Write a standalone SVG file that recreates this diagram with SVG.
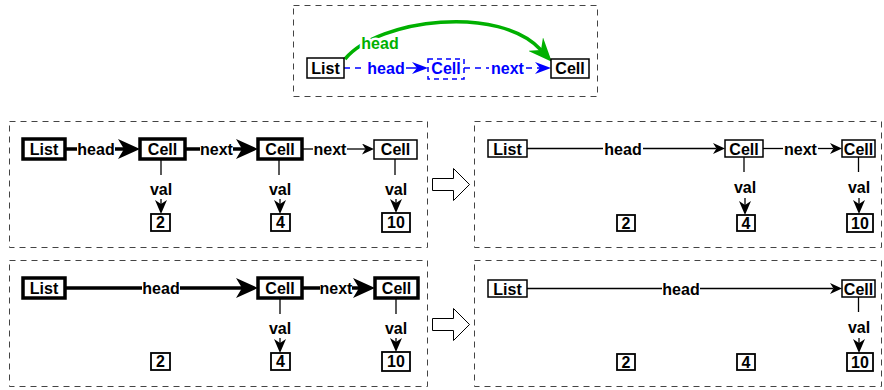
<svg xmlns="http://www.w3.org/2000/svg" width="884" height="390" viewBox="0 0 884 390">
<defs>
<style>
text{font-family:"Liberation Sans",Arial,sans-serif;font-weight:bold;font-size:16px;text-anchor:middle;fill:#000}
.panel{fill:none;stroke:#444;stroke-width:1;stroke-dasharray:6,5}
.thick{fill:#fff;stroke:#000;stroke-width:3.5}
.thin{fill:#fff;stroke:#000;stroke-width:1.5}
.val{fill:#fff;stroke:#000;stroke-width:1.8}
.lt{stroke:#000;stroke-width:3.5;fill:none}
.ln{stroke:#000;stroke-width:1.3;fill:none}
.blue{stroke:#0000ff;stroke-width:1.5;stroke-dasharray:6,5;fill:none}
.bt{fill:#0000ff}
.gt{fill:#00b000}
.hollow{fill:#fff;stroke:#000;stroke-width:1}
</style>
<marker id="ahT" markerUnits="userSpaceOnUse" viewBox="0 0 22 20" markerWidth="22" markerHeight="20" refX="6" refY="10" orient="auto"><path d="M0,0 L22,10 L0,20 L6,10 Z" fill="#000"/></marker>
<marker id="ahN" markerUnits="userSpaceOnUse" viewBox="0 0 12 11" markerWidth="12" markerHeight="11" refX="3.5" refY="5.5" orient="auto"><path d="M0,0 L12,5.5 L0,11 L3.5,5.5 Z" fill="#000"/></marker>
<marker id="ahV" markerUnits="userSpaceOnUse" viewBox="0 0 14 12" markerWidth="14" markerHeight="12" refX="4" refY="6" orient="auto"><path d="M0,0 L14,6 L0,12 L4,6 Z" fill="#000"/></marker>
<marker id="ahB" markerUnits="userSpaceOnUse" viewBox="0 0 16 12" markerWidth="16" markerHeight="12" refX="5" refY="6" orient="auto"><path d="M0,0 L16,6 L0,12 L5,6 Z" fill="#0000ff"/></marker>
<marker id="ahG" markerUnits="userSpaceOnUse" viewBox="0 0 24 20" markerWidth="24" markerHeight="20" refX="8" refY="10" orient="auto"><path d="M0,0 L24,10 L0,20 L8,10 Z" fill="#00b000"/></marker>
</defs>
<rect width="884" height="390" fill="#fff"/>

<!-- panels -->
<g id="panels">
<rect class="panel" x="293.5" y="5.5" width="304" height="91"/>
<rect class="panel" x="9.5" y="121.5" width="418" height="126"/>
<rect class="panel" x="474.5" y="121.5" width="407" height="126"/>
<rect class="panel" x="9.5" y="260.5" width="418" height="126"/>
<rect class="panel" x="474.5" y="260.5" width="407" height="126"/>
</g>

<!-- transition arrows -->
<g id="transitions">
<polygon class="hollow" points="432.5,178.5 453.5,178.5 453.5,168.5 469.5,184.5 453.5,200.5 453.5,190.5 432.5,190.5"/>
<polygon class="hollow" points="432.5,318.5 453.5,318.5 453.5,308.5 469.5,324.5 453.5,340.5 453.5,330.5 432.5,330.5"/>
</g>

<!-- connectors -->
<g id="connectors">
<!-- top legend -->
<path d="M345,59 C380,18 500,5 541,50" stroke="#00b000" stroke-width="3.5" fill="none" marker-end="url(#ahG)"/>
<text class="gt" x="380" y="49" stroke="#fff" stroke-width="5" paint-order="stroke">head</text>
<line class="blue" x1="344" y1="68" x2="366" y2="68"/>
<text class="bt" x="386" y="74">head</text>
<line x1="406" y1="68" x2="417" y2="68" stroke="#0000ff" stroke-width="1.5" marker-end="url(#ahB)"/>
<line class="blue" x1="464" y1="68" x2="489" y2="68"/>
<text class="bt" x="507.5" y="74">next</text>
<line x1="526" y1="68" x2="540" y2="68" stroke="#0000ff" stroke-width="1.5" stroke-dasharray="6,5" marker-end="url(#ahB)"/>

<!-- panel 1 -->
<line class="lt" x1="65" y1="149" x2="77" y2="149"/>
<text x="96" y="155">head</text>
<line class="lt" x1="115" y1="149" x2="124" y2="149" marker-end="url(#ahT)"/>
<line class="lt" x1="185" y1="149" x2="200" y2="149"/>
<text x="216.5" y="155">next</text>
<line class="lt" x1="233" y1="149" x2="242" y2="149" marker-end="url(#ahT)"/>
<line class="ln" x1="302" y1="149" x2="313" y2="149"/>
<text x="330" y="155">next</text>
<line class="ln" x1="347" y1="149" x2="365.5" y2="149" marker-end="url(#ahN)"/>
<line class="ln" x1="161" y1="159" x2="161" y2="175"/>
<text x="161" y="195">val</text>
<line class="ln" x1="161" y1="199" x2="161" y2="204" marker-end="url(#ahV)"/>
<line class="ln" x1="279" y1="159" x2="279" y2="175"/>
<text x="280" y="195">val</text>
<line class="ln" x1="280" y1="199" x2="280" y2="204" marker-end="url(#ahV)"/>
<line class="ln" x1="395" y1="159" x2="395" y2="175"/>
<text x="396" y="195">val</text>
<line class="ln" x1="396" y1="199" x2="396" y2="203" marker-end="url(#ahV)"/>

<!-- panel 2 -->
<line class="ln" x1="527" y1="148.5" x2="603" y2="148.5"/>
<text x="623" y="154.5">head</text>
<line class="ln" x1="643" y1="148.5" x2="716.5" y2="148.5" marker-end="url(#ahN)"/>
<line class="ln" x1="763" y1="148.5" x2="783" y2="148.5"/>
<text x="800.5" y="154.5">next</text>
<line class="ln" x1="818" y1="148.5" x2="833.5" y2="148.5" marker-end="url(#ahN)"/>
<line class="ln" x1="744" y1="157" x2="744" y2="172"/>
<text x="745" y="193">val</text>
<line class="ln" x1="745" y1="198" x2="745" y2="205" marker-end="url(#ahV)"/>
<line class="ln" x1="858.5" y1="157" x2="858.5" y2="172"/>
<text x="859" y="193">val</text>
<line class="ln" x1="859" y1="198" x2="859" y2="204" marker-end="url(#ahV)"/>

<!-- panel 3 -->
<line class="lt" x1="65" y1="288" x2="142" y2="288"/>
<text x="161" y="294">head</text>
<line class="lt" x1="180" y1="288" x2="242" y2="288" marker-end="url(#ahT)"/>
<line class="lt" x1="302" y1="288" x2="320" y2="288"/>
<text x="336" y="294">next</text>
<line class="lt" x1="352" y1="288" x2="359" y2="288" marker-end="url(#ahT)"/>
<line class="ln" x1="280" y1="298" x2="280" y2="314"/>
<text x="280" y="334">val</text>
<line class="ln" x1="280" y1="338" x2="280" y2="343" marker-end="url(#ahV)"/>
<line class="ln" x1="396" y1="298" x2="396" y2="314"/>
<text x="396" y="334">val</text>
<line class="ln" x1="396" y1="338" x2="396" y2="342" marker-end="url(#ahV)"/>

<!-- panel 4 -->
<line class="ln" x1="527" y1="288.5" x2="662" y2="288.5"/>
<text x="681" y="294.5">head</text>
<line class="ln" x1="700" y1="288.5" x2="833.5" y2="288.5" marker-end="url(#ahN)"/>
<line class="ln" x1="858.5" y1="297" x2="858.5" y2="312"/>
<text x="859" y="333">val</text>
<line class="ln" x1="859" y1="338" x2="859" y2="343" marker-end="url(#ahV)"/>
</g>

<!-- top legend nodes -->
<g id="t-list"><rect class="thin" x="307" y="58" width="37" height="20"/><text x="325.5" y="74">List</text></g>
<g id="t-cell1"><rect x="428" y="59" width="36" height="20" fill="#fff" stroke="#0000ff" stroke-width="1.5" stroke-dasharray="5,4"/><text class="bt" x="446" y="74">Cell</text></g>
<g id="t-cell2"><rect class="thin" x="551" y="59" width="38" height="19"/><text x="570" y="74">Cell</text></g>

<!-- panel 1 nodes -->
<g id="p1-list"><rect class="thick" x="23" y="139" width="42" height="20"/><text x="44" y="155">List</text></g>
<g id="p1-cell1"><rect class="thick" x="140" y="139" width="45" height="20"/><text x="162.5" y="155">Cell</text></g>
<g id="p1-cell2"><rect class="thick" x="258" y="139" width="44" height="20"/><text x="280" y="155">Cell</text></g>
<g id="p1-cell3"><rect class="thin" x="374" y="140" width="43" height="19"/><text x="395.5" y="155">Cell</text></g>
<g id="p1-v2"><rect class="val" x="151" y="214" width="19" height="17"/><text x="160.5" y="228">2</text></g>
<g id="p1-v4"><rect class="val" x="271" y="214" width="19" height="17"/><text x="280.5" y="228">4</text></g>
<g id="p1-v10"><rect class="val" x="382" y="213" width="28" height="19"/><text x="396" y="228">10</text></g>

<!-- panel 2 nodes -->
<g id="p2-list"><rect class="thin" x="488" y="140" width="39" height="17"/><text x="507.5" y="154.5">List</text></g>
<g id="p2-cell1"><rect class="thin" x="725" y="140" width="38" height="17"/><text x="744" y="154.5">Cell</text></g>
<g id="p2-cell2"><rect class="thin" x="842" y="140" width="33" height="17"/><text x="858.5" y="154.5">Cell</text></g>
<g id="p2-v2"><rect class="val" x="617" y="215" width="18" height="16"/><text x="626" y="228.5">2</text></g>
<g id="p2-v4"><rect class="val" x="737" y="215" width="18" height="16"/><text x="746" y="228.5">4</text></g>
<g id="p2-v10"><rect class="val" x="847" y="214" width="26" height="18"/><text x="860" y="228.5">10</text></g>

<!-- panel 3 nodes -->
<g id="p3-list"><rect class="thick" x="23" y="278" width="42" height="20"/><text x="44" y="294">List</text></g>
<g id="p3-cell1"><rect class="thick" x="258" y="278" width="44" height="20"/><text x="280" y="294">Cell</text></g>
<g id="p3-cell2"><rect class="thick" x="375" y="278" width="43" height="20"/><text x="396.5" y="294">Cell</text></g>
<g id="p3-v2"><rect class="val" x="151" y="353" width="19" height="17"/><text x="160.5" y="367">2</text></g>
<g id="p3-v4"><rect class="val" x="271" y="353" width="19" height="17"/><text x="280.5" y="367">4</text></g>
<g id="p3-v10"><rect class="val" x="382" y="352" width="28" height="19"/><text x="396" y="367">10</text></g>

<!-- panel 4 nodes -->
<g id="p4-list"><rect class="thin" x="488" y="280" width="39" height="17"/><text x="507.5" y="294.5">List</text></g>
<g id="p4-cell"><rect class="thin" x="842" y="280" width="33" height="17"/><text x="858.5" y="294.5">Cell</text></g>
<g id="p4-v2"><rect class="val" x="617" y="354" width="18" height="16"/><text x="626" y="367.5">2</text></g>
<g id="p4-v4"><rect class="val" x="737" y="354" width="18" height="16"/><text x="746" y="367.5">4</text></g>
<g id="p4-v10"><rect class="val" x="847" y="353" width="26" height="18"/><text x="860" y="367.5">10</text></g>
</svg>
